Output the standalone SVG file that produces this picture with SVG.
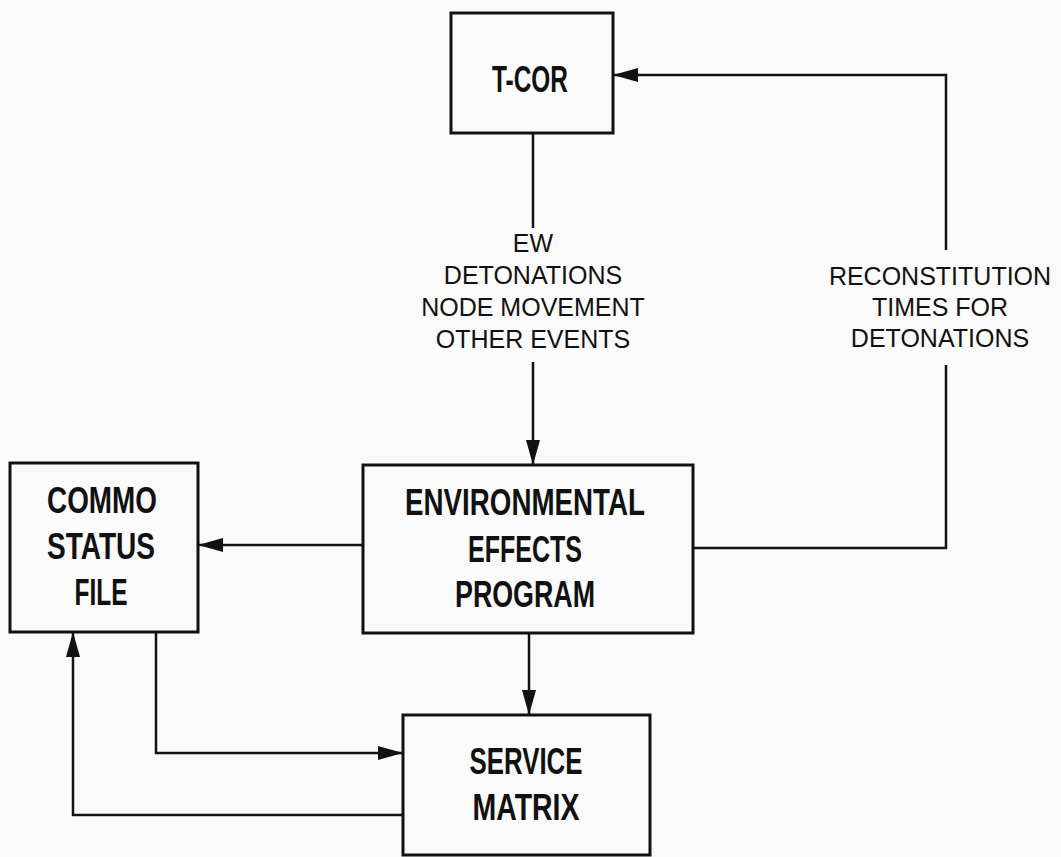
<svg xmlns="http://www.w3.org/2000/svg" width="1061" height="857" viewBox="0 0 1061 857">
<style>
.box{fill:none;stroke:#111;stroke-width:3}
.bt{font-family:"Liberation Sans Narrow","Liberation Sans",Arial,sans-serif;font-weight:bold;font-size:36px;fill:#111;text-anchor:middle}
.lt{font-family:"Liberation Sans",Arial,sans-serif;font-size:25px;fill:#111;text-anchor:middle}
.ln{fill:none;stroke:#111;stroke-width:2.5}
</style>
<defs>
<marker id="ah" markerUnits="userSpaceOnUse" markerWidth="27" markerHeight="16" refX="25" refY="7" orient="auto">
<path d="M0,0 L25,7 L0,14 z" fill="#111"/>
</marker>
</defs>
<rect width="1061" height="857" fill="#fafafa"/>
<g id="connectors">
<polyline class="ln" points="533,133 533,228"/>
<polyline class="ln" points="533,362 533,465" marker-end="url(#ah)"/>
<polyline class="ln" points="693,548 946,548 946,365"/>
<polyline class="ln" points="946,250 946,75 613,75" marker-end="url(#ah)"/>
<polyline class="ln" points="363,545 198,545" marker-end="url(#ah)"/>
<polyline class="ln" points="529,633 529,715" marker-end="url(#ah)"/>
<polyline class="ln" points="156,632 156,753 403,753" marker-end="url(#ah)"/>
<polyline class="ln" points="403,815 73,815 73,632" marker-end="url(#ah)"/>
<g id="label-events">
<text class="lt" x="533" y="252">EW</text>
<text class="lt" x="533" y="284">DETONATIONS</text>
<text class="lt" x="533" y="316">NODE MOVEMENT</text>
<text class="lt" x="533" y="348">OTHER EVENTS</text>
</g>
<g id="label-reconst">
<text class="lt" x="940" y="285">RECONSTITUTION</text>
<text class="lt" x="940" y="316">TIMES FOR</text>
<text class="lt" x="940" y="347">DETONATIONS</text>
</g>
</g>
<g id="tcor">
<rect class="box" x="451" y="13" width="162" height="120"/>
<text class="bt" x="530" y="92" textLength="76" lengthAdjust="spacingAndGlyphs">T-COR</text>
</g>
<g id="commo">
<rect class="box" x="10" y="463" width="188" height="169"/>
<text class="bt" x="102" y="513" textLength="110" lengthAdjust="spacingAndGlyphs">COMMO</text>
<text class="bt" x="101" y="559" textLength="108" lengthAdjust="spacingAndGlyphs">STATUS</text>
<text class="bt" x="101" y="605" textLength="53" lengthAdjust="spacingAndGlyphs">FILE</text>
</g>
<g id="env">
<rect class="box" x="363" y="465" width="330" height="168"/>
<text class="bt" x="525" y="515" textLength="240" lengthAdjust="spacingAndGlyphs">ENVIRONMENTAL</text>
<text class="bt" x="525" y="562" textLength="114" lengthAdjust="spacingAndGlyphs">EFFECTS</text>
<text class="bt" x="525" y="607" textLength="140" lengthAdjust="spacingAndGlyphs">PROGRAM</text>
</g>
<g id="service">
<rect class="box" x="403" y="715" width="247" height="140"/>
<text class="bt" x="526" y="774" textLength="113" lengthAdjust="spacingAndGlyphs">SERVICE</text>
<text class="bt" x="526" y="820" textLength="107" lengthAdjust="spacingAndGlyphs">MATRIX</text>
</g>
</svg>
